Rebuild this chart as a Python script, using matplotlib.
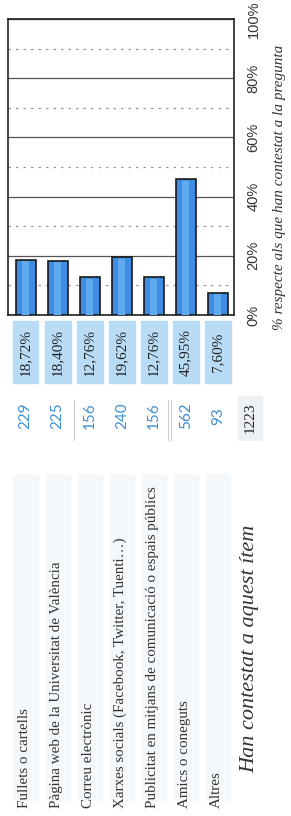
"""
plot.py

Rotated bar chart with its table: how people heard about the survey
"""

import matplotlib
matplotlib.use("Agg")
import matplotlib.pyplot as plt
import matplotlib.transforms as mtransforms
from matplotlib.patches import Rectangle
import numpy as np

# data
categories = [
    "Fullets o cartells",
    "Pàgina web de la Universitat de València",
    "Correu electrònic",
    "Xarxes socials (Facebook, Twitter, Tuenti…)",
    "Publicitat en mitjans de comunicació o espais públics",
    "Amics o coneguts",
    "Altres",
]
counts = [229, 225, 156, 240, 156, 562, 93]
percents = [18.72, 18.40, 12.76, 19.62, 12.76, 45.95, 7.60]
total_label = "Han contestat a aquest ítem"
total = 1223
pct_ticks = [0, 20, 40, 60, 80, 100]
axis_label = "% respecte als que han contestat a la pregunta"

W, H = 291, 816


def fy(y_px):
    # pixel row (from top) -> figure fraction
    return 1 - y_px / H


fig = plt.figure(figsize=(W / 100, H / 100), dpi=100)
ax = fig.add_axes([8 / W, fy(315), 226 / W, 296 / H])

pos = np.arange(len(categories))
ax.bar(pos, percents, width=0.63, color="#3d8ee2", edgecolor="#1a1a1a",
       linewidth=1.2, zorder=3)
# lighter stripe for the rounded look of the bars
ax.bar(pos, np.array(percents) - 0.6, width=0.22, color="#62a9f0",
       linewidth=0, zorder=4)

ax.set_xlim(-0.55, 6.5)
ax.set_ylim(0, 100)
ax.set_xticks([])
ax.set_yticks(pct_ticks)
ax.set_yticks(range(10, 100, 20), minor=True)
ax.yaxis.tick_right()
ax.set_yticklabels([f"{t}%" for t in pct_ticks], rotation=90, va="center",
                   fontsize=10.5, color="#333333", family="Liberation Sans")
ax.tick_params(axis="y", which="both", length=0, pad=9)
ax.grid(axis="y", which="major", color="#555555", linewidth=0.9, zorder=1)
ax.grid(axis="y", which="minor", color="#999999", linewidth=0.9,
        linestyle=(0, (2, 4)), zorder=1)
for s in ax.spines.values():
    s.set_color("#222222")
    s.set_linewidth(1.2)

fig.text(280 / W, fy(187), axis_label, rotation=90, ha="center", va="center",
         fontsize=11, style="italic", family="Liberation Serif", color="#333333")

# table part below the chart, rows aligned with the bars
tr = mtransforms.blended_transform_factory(ax.transData, fig.transFigure)

for i in pos:
    # percentage cells
    fig.patches.append(Rectangle((i - 0.4, fy(383)), 0.8, 62 / H,
                                 transform=tr, color="#b9dcf6", zorder=0))
    fig.text(i, fy(352), f"{percents[i]:.2f}%".replace(".", ","), transform=tr,
             rotation=90, ha="center", va="center", fontsize=11,
             family="Liberation Serif", color="#222222")
    # counts
    fig.text(i, fy(416), str(counts[i]), transform=tr, rotation=90,
             ha="center", va="center", fontsize=11, family="Lato",
             color="#3b8fd4")
    # faint label cells
    fig.patches.append(Rectangle((i - 0.38, fy(800)), 0.76, 325 / H,
                                 transform=tr, color="#f5f8fb", zorder=0))
    fig.text(i - 0.05, fy(808), categories[i], transform=tr, rotation=90,
             ha="center", va="bottom", fontsize=10.8, family="Liberation Serif",
             color="#333333")

# thin separators between some of the counts
for xs in [1.5, 4.45, 4.55]:
    fig.lines.append(plt.Line2D([xs, xs], [fy(440), fy(400)], transform=tr,
                                color="#cccccc", linewidth=0.8))

# total row
n = len(categories)
fig.patches.append(Rectangle((n - 0.38, fy(440)), 0.76, 44 / H,
                             transform=tr, color="#eef1f4", zorder=0))
fig.text(n, fy(418), str(total), transform=tr, rotation=90, ha="center",
         va="center", fontsize=11, family="Liberation Serif", color="#222222")
fig.text(n, fy(773), total_label, transform=tr, rotation=90, ha="center",
         va="bottom", fontsize=16, style="italic", family="Liberation Serif",
         color="#333333")

fig.savefig("out.png", dpi=100, facecolor="white")
